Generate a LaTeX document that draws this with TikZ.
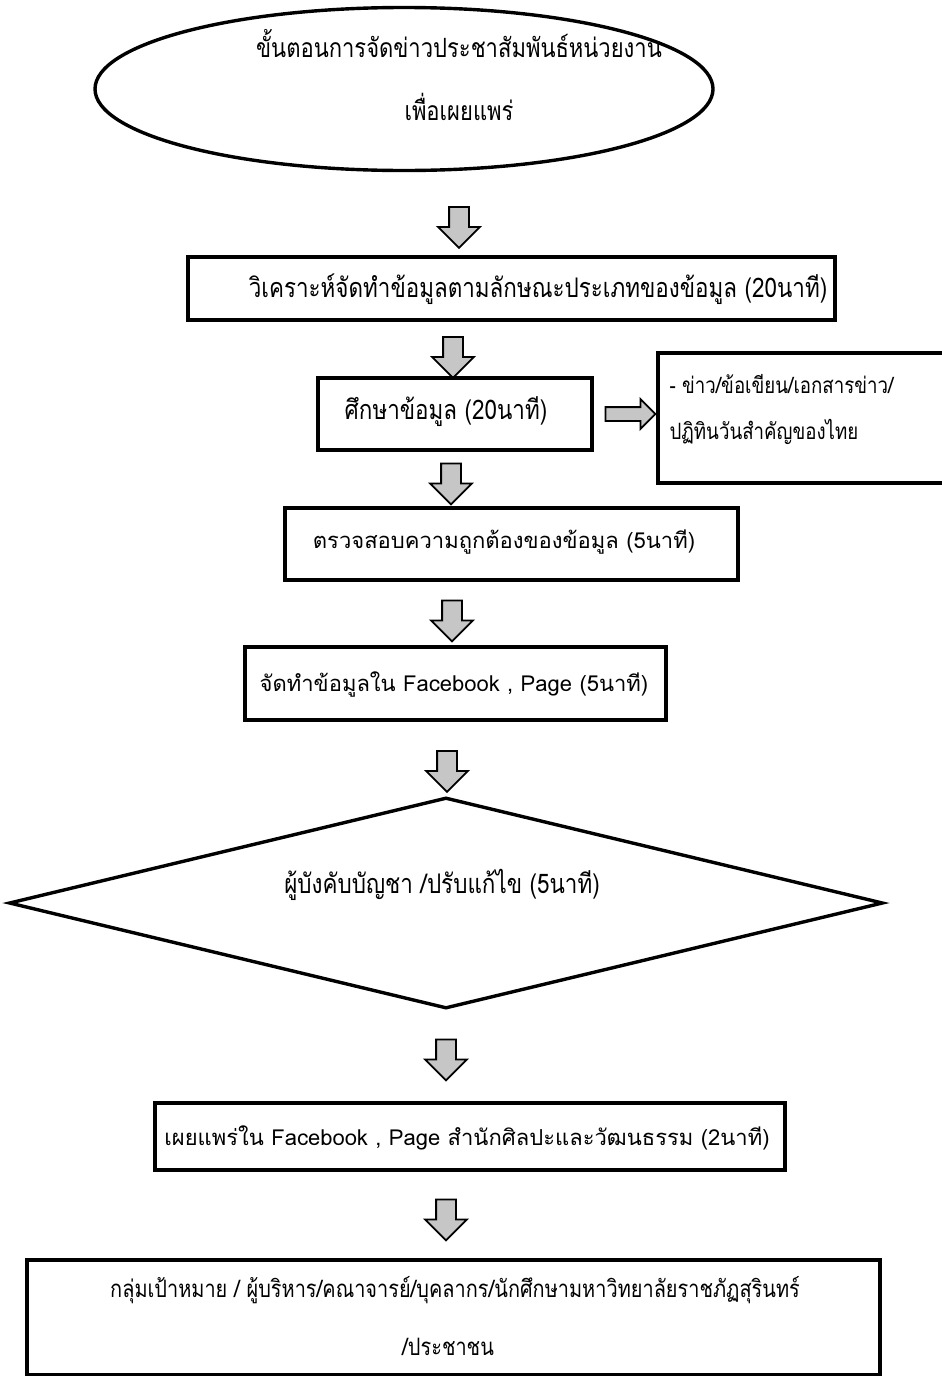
\documentclass[tikz,border=0pt]{standalone}
\usepackage{fontspec}
\setmainfont{Liberation Sans}
\newfontfamily\thaiwide[Script=Thai]{Loma}
\newfontfamily\thainarrow[Script=Thai,FakeStretch=0.83]{Loma}
\usetikzlibrary{shapes.geometric,shapes.arrows}
\tikzset{
  stepbox/.style={draw=black, line width=3.2pt, fill=white},
  narrowtxt/.style={font=\thainarrow\fontsize{27}{32}\selectfont},
  sidetxt/.style={font=\thainarrow\fontsize{22.5}{28}\selectfont},
  titletxt/.style={font=\thainarrow\fontsize{26.5}{32}\selectfont},
  lasttxt/.style={font=\thainarrow\fontsize{24}{30}\selectfont},
  widetxt/.style={font=\thaiwide\fontsize{22}{27}\selectfont},
  downarrow/.style={single arrow, draw=black, line width=1.8pt,
    fill=gray!45, shape border rotate=270, minimum height=41pt,
    inner sep=9pt, single arrow head extend=11pt, single arrow head indent=0pt},
  sidearrow/.style={downarrow, shape border rotate=0, minimum height=50pt,
    single arrow head extend=8pt, inner sep=6pt},
}
\begin{document}
\begin{tikzpicture}[x=1pt,y=-1pt]
\useasboundingbox (0,0) rectangle (942,1376);
\fill[white] (0,0) rectangle (942,1376);

% start oval
\node (start) [ellipse, draw=black, line width=3.4pt, minimum width=618pt,
  minimum height=163pt, inner sep=0pt] at (404,89) {};
\node (t1) [titletxt] at (459,44) {ขั้นตอนการจัดข่าวประชาสัมพันธ์หน่วยงาน};
\node (t2) [titletxt] at (459,107) {เพื่อเผยแพร่};

\node (a1) [downarrow] at (459,222.5) {};

% analysis
\path[stepbox] (188,257) rectangle (835,320);
\node (b1) [narrowtxt] at (538,289) {วิเคราะห์จัดทำข้อมูลตามลักษณะประเภทของข้อมูล (20นาที)};

\node (a2) [downarrow] at (453,352.5) {};

% study
\path[stepbox] (318,378) rectangle (592,450);
\node (b2) [narrowtxt] at (446,412) {ศึกษาข้อมูล (20นาที)};

\node (a3) [sidearrow] at (627,414) {};

% side note
\path[stepbox] (658,353) rectangle (948,483);
\node (n1) [sidetxt, anchor=west] at (666,384) {- ข่าว/ข้อเขียน/เอกสารข่าว/};
\node (n2) [sidetxt, anchor=west] at (666,432) {ปฏิทินวันสำคัญของไทย};

\node (a4) [downarrow] at (451,479) {};

% checking
\path[stepbox] (285,508) rectangle (738,580);
\node (b3) [widetxt] at (504,542) {ตรวจสอบความถูกต้องของข้อมูล (5นาที)};

\node (a5) [downarrow] at (452,616) {};

% posting
\path[stepbox] (245,647) rectangle (666,720);
\node (b4) [widetxt] at (454,684) {จัดทำข้อมูลใน Facebook , Page (5นาที)};

\node (a6) [downarrow] at (447,766.5) {};

% decision
\node (dec) [diamond, draw=black, line width=3.4pt, minimum width=874pt,
  minimum height=211pt, inner sep=0pt, aspect=4.14] at (446,903) {};
\node (dtxt) [narrowtxt] at (442,885) {ผู้บังคับบัญชา /ปรับแก้ไข (5นาที)};

\node (a7) [downarrow] at (446,1055) {};

% publishing
\path[stepbox] (155,1103) rectangle (785,1170);
\node (b5) [widetxt] at (467,1138) {เผยแพร่ใน Facebook , Page สำนักศิลปะและวัฒนธรรม (2นาที)};

\node (a8) [downarrow] at (446,1215) {};

% audience
\path[stepbox] (27,1260) rectangle (880,1375);
\node (b6) [lasttxt] at (455,1290) {กลุ่มเป้าหมาย / ผู้บริหาร/คณาจารย์/บุคลากร/นักศึกษามหาวิทยาลัยราชภัฏสุรินทร์};
\node (b7) [lasttxt] at (448,1347) {/ประชาชน};
\end{tikzpicture}
\end{document}
